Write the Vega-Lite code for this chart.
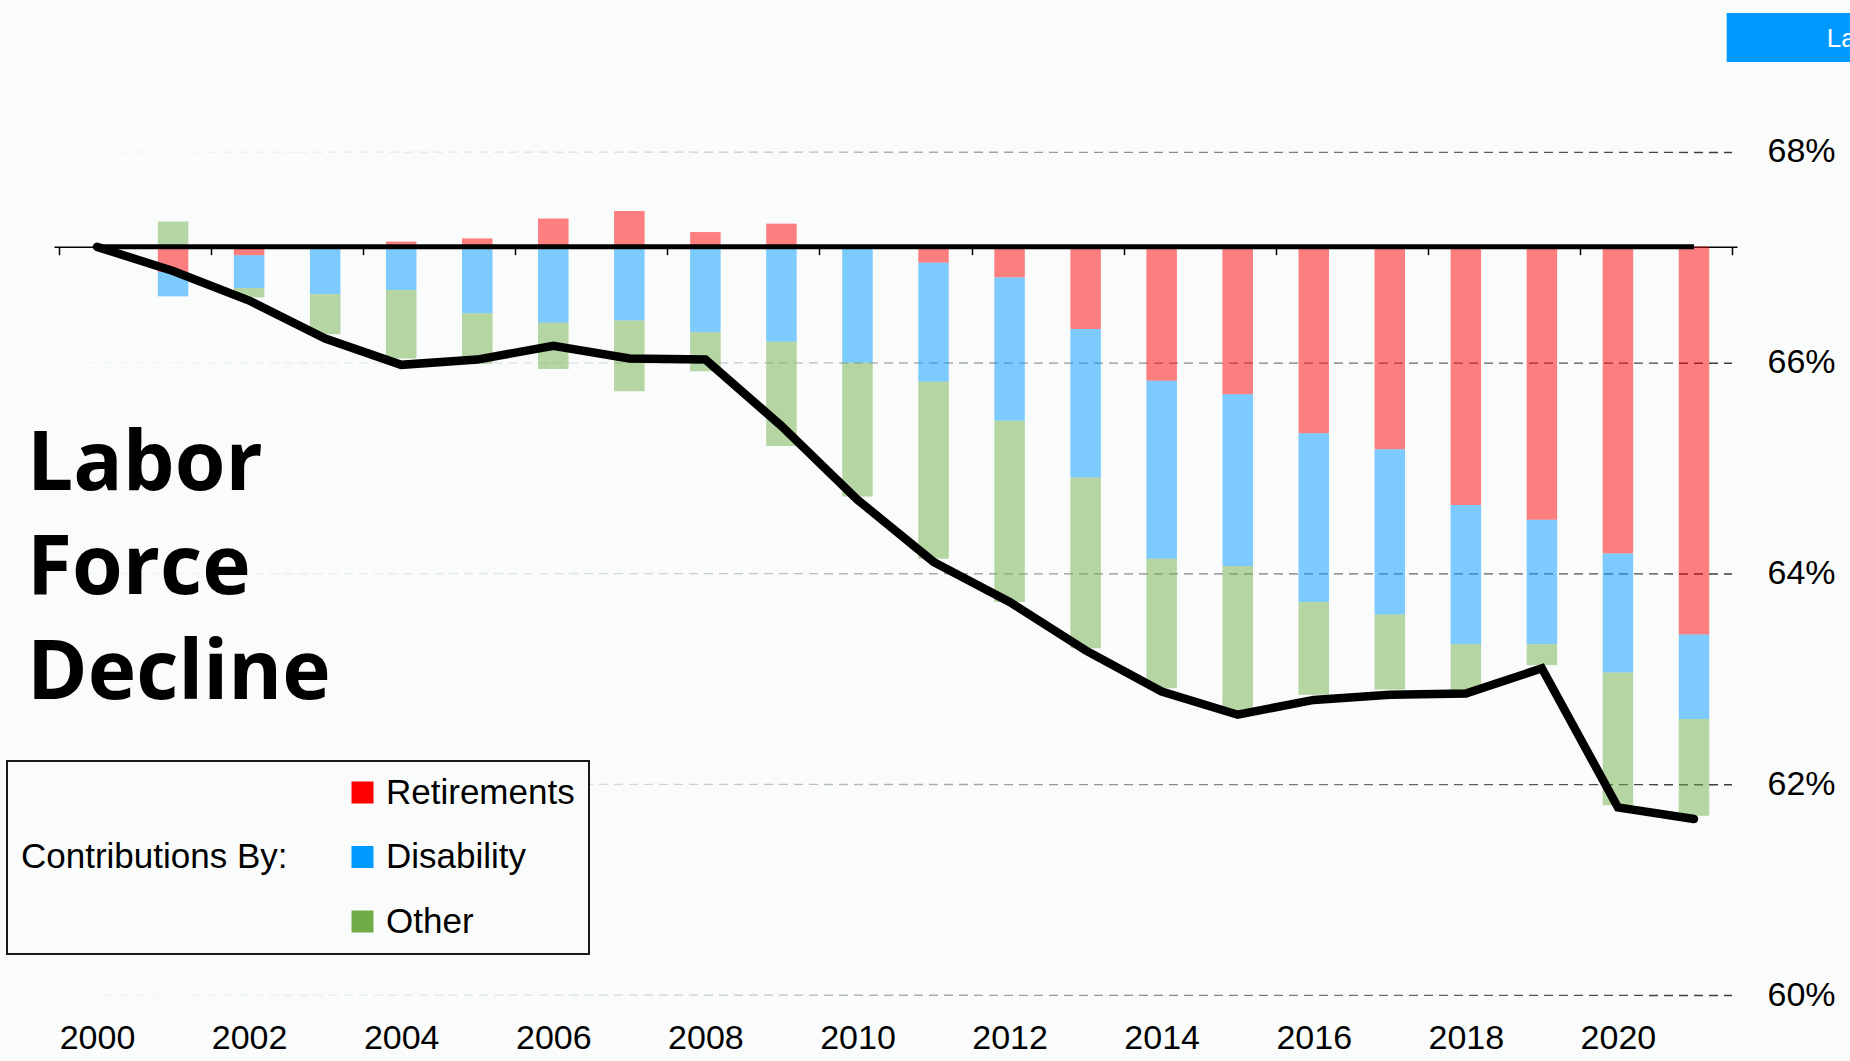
{
  "$schema": "https://vega.github.io/schema/vega-lite/v6.json",
  "width": 1683,
  "height": 980,
  "autosize": "none",
  "padding": {"left": 54, "top": 15, "right": 113, "bottom": 66},
  "background": "#fafcfc",
  "config": {"view": {"stroke": null}},
  "title": {
    "text": ["Labor", "Force", "Decline"],
    "font": "Open Sans",
    "fontSize": 82,
    "fontWeight": "bold",
    "color": "#000000",
    "anchor": "start",
    "frame": "group",
    "orient": "top",
    "baseline": "alphabetic",
    "lineHeight": 104.6,
    "offset": 0,
    "dx": -27,
    "dy": 768
  },
  "datasets": {
    "grid": [{"g": 60}, {"g": 62}, {"g": 64}, {"g": 66}, {"g": 68}],
    "bars": [
      {"year": 2001, "cat": "Retirements", "from": 67.10, "to": 66.86},
      {"year": 2001, "cat": "Disability", "from": 66.86, "to": 66.63},
      {"year": 2001, "cat": "Other", "from": 67.10, "to": 67.34},
      {"year": 2002, "cat": "Retirements", "from": 67.10, "to": 67.02},
      {"year": 2002, "cat": "Disability", "from": 67.02, "to": 66.71},
      {"year": 2002, "cat": "Other", "from": 66.71, "to": 66.62},
      {"year": 2003, "cat": "Disability", "from": 67.10, "to": 66.65},
      {"year": 2003, "cat": "Other", "from": 66.65, "to": 66.27},
      {"year": 2004, "cat": "Retirements", "from": 67.10, "to": 67.15},
      {"year": 2004, "cat": "Disability", "from": 67.10, "to": 66.69},
      {"year": 2004, "cat": "Other", "from": 66.69, "to": 66.04},
      {"year": 2005, "cat": "Retirements", "from": 67.10, "to": 67.18},
      {"year": 2005, "cat": "Disability", "from": 67.10, "to": 66.47},
      {"year": 2005, "cat": "Other", "from": 66.47, "to": 65.99},
      {"year": 2006, "cat": "Retirements", "from": 67.10, "to": 67.37},
      {"year": 2006, "cat": "Disability", "from": 67.10, "to": 66.38},
      {"year": 2006, "cat": "Other", "from": 66.38, "to": 65.94},
      {"year": 2007, "cat": "Retirements", "from": 67.10, "to": 67.44},
      {"year": 2007, "cat": "Disability", "from": 67.10, "to": 66.40},
      {"year": 2007, "cat": "Other", "from": 66.40, "to": 65.73},
      {"year": 2008, "cat": "Retirements", "from": 67.10, "to": 67.24},
      {"year": 2008, "cat": "Disability", "from": 67.10, "to": 66.29},
      {"year": 2008, "cat": "Other", "from": 66.29, "to": 65.92},
      {"year": 2009, "cat": "Retirements", "from": 67.10, "to": 67.32},
      {"year": 2009, "cat": "Disability", "from": 67.10, "to": 66.20},
      {"year": 2009, "cat": "Other", "from": 66.20, "to": 65.21},
      {"year": 2010, "cat": "Disability", "from": 67.10, "to": 66.00},
      {"year": 2010, "cat": "Other", "from": 66.00, "to": 64.73},
      {"year": 2011, "cat": "Retirements", "from": 67.10, "to": 66.95},
      {"year": 2011, "cat": "Disability", "from": 66.95, "to": 65.82},
      {"year": 2011, "cat": "Other", "from": 65.82, "to": 64.14},
      {"year": 2012, "cat": "Retirements", "from": 67.10, "to": 66.81},
      {"year": 2012, "cat": "Disability", "from": 66.81, "to": 65.45},
      {"year": 2012, "cat": "Other", "from": 65.45, "to": 63.73},
      {"year": 2013, "cat": "Retirements", "from": 67.10, "to": 66.32},
      {"year": 2013, "cat": "Disability", "from": 66.32, "to": 64.91},
      {"year": 2013, "cat": "Other", "from": 64.91, "to": 63.29},
      {"year": 2014, "cat": "Retirements", "from": 67.10, "to": 65.83},
      {"year": 2014, "cat": "Disability", "from": 65.83, "to": 64.14},
      {"year": 2014, "cat": "Other", "from": 64.14, "to": 62.91},
      {"year": 2015, "cat": "Retirements", "from": 67.10, "to": 65.70},
      {"year": 2015, "cat": "Disability", "from": 65.70, "to": 64.07},
      {"year": 2015, "cat": "Other", "from": 64.07, "to": 62.66},
      {"year": 2016, "cat": "Retirements", "from": 67.10, "to": 65.33},
      {"year": 2016, "cat": "Disability", "from": 65.33, "to": 63.73},
      {"year": 2016, "cat": "Other", "from": 63.73, "to": 62.85},
      {"year": 2017, "cat": "Retirements", "from": 67.10, "to": 65.18},
      {"year": 2017, "cat": "Disability", "from": 65.18, "to": 63.61},
      {"year": 2017, "cat": "Other", "from": 63.61, "to": 62.90},
      {"year": 2018, "cat": "Retirements", "from": 67.10, "to": 64.65},
      {"year": 2018, "cat": "Disability", "from": 64.65, "to": 63.33},
      {"year": 2018, "cat": "Other", "from": 63.33, "to": 62.88},
      {"year": 2019, "cat": "Retirements", "from": 67.10, "to": 64.51},
      {"year": 2019, "cat": "Disability", "from": 64.51, "to": 63.33},
      {"year": 2019, "cat": "Other", "from": 63.33, "to": 63.13},
      {"year": 2020, "cat": "Retirements", "from": 67.10, "to": 64.19},
      {"year": 2020, "cat": "Disability", "from": 64.19, "to": 63.06},
      {"year": 2020, "cat": "Other", "from": 63.06, "to": 61.80},
      {"year": 2021, "cat": "Retirements", "from": 67.10, "to": 63.42},
      {"year": 2021, "cat": "Disability", "from": 63.42, "to": 62.62},
      {"year": 2021, "cat": "Other", "from": 62.62, "to": 61.70}
    ],
    "lfpr": [
      {"year": 2000, "rate": 67.10},
      {"year": 2001, "rate": 66.87},
      {"year": 2002, "rate": 66.59},
      {"year": 2003, "rate": 66.23},
      {"year": 2004, "rate": 65.98},
      {"year": 2005, "rate": 66.03},
      {"year": 2006, "rate": 66.16},
      {"year": 2007, "rate": 66.04},
      {"year": 2008, "rate": 66.03},
      {"year": 2009, "rate": 65.40},
      {"year": 2010, "rate": 64.70},
      {"year": 2011, "rate": 64.11},
      {"year": 2012, "rate": 63.73},
      {"year": 2013, "rate": 63.27},
      {"year": 2014, "rate": 62.88},
      {"year": 2015, "rate": 62.66},
      {"year": 2016, "rate": 62.80},
      {"year": 2017, "rate": 62.85},
      {"year": 2018, "rate": 62.86},
      {"year": 2019, "rate": 63.10},
      {"year": 2020, "rate": 61.78},
      {"year": 2021, "rate": 61.67}
    ]
  },
  "resolve": {"axis": {"x": "independent", "y": "independent"}},
  "layer": [
    {
      "data": {"name": "grid"},
      "mark": {
        "type": "rule",
        "strokeDash": [9, 6],
        "strokeWidth": 1.3,
        "y2Offset": 0.5,
        "stroke": {
          "gradient": "linear",
          "stops": [
            {"offset": 0, "color": "#f5f8f9"},
            {"offset": 0.3, "color": "#dce1e4"},
            {"offset": 1, "color": "#3a3a3a"}
          ]
        }
      },
      "encoding": {
        "x": {"datum": 1999.5, "type": "quantitative", "scale": {"domain": [1999.5, 2021.5], "nice": false, "zero": false}, "axis": null},
        "x2": {"datum": 2021.5},
        "y": {
          "field": "g", "type": "quantitative",
          "scale": {"domain": [60, 69.3], "nice": false, "zero": false},
          "axis": {
            "orient": "right", "title": null, "values": [60, 62, 64, 66, 68],
            "labelExpr": "datum.value + '%'", "labelFont": "Liberation Sans", "labelFontSize": 34,
            "labelColor": "#000000", "labelPadding": 30, "labelAlign": "left",
            "ticks": false, "tickSize": 0, "domain": false, "grid": false
          }
        },
        "y2": {"field": "g"}
      }
    },
    {
      "data": {"name": "bars"},
      "mark": {"type": "bar", "width": 30.5, "opacity": 0.5},
      "encoding": {
        "x": {
          "field": "year", "type": "quantitative",
          "axis": {
            "orient": "bottom", "title": null, "values": [2000, 2002, 2004, 2006, 2008, 2010, 2012, 2014, 2016, 2018, 2020],
            "format": "d", "labelFont": "Liberation Sans", "labelFontSize": 34, "labelColor": "#000000",
            "labelPadding": 26, "ticks": false, "tickSize": 0, "domain": false, "grid": false,
            "labelFlush": false, "labelOverlap": false
          }
        },
        "y": {"field": "from", "type": "quantitative", "axis": null},
        "y2": {"field": "to"},
        "color": {
          "field": "cat", "type": "nominal",
          "scale": {"domain": ["Retirements", "Disability", "Other"], "range": ["#ff0000", "#0099ff", "#70ad47"]},
          "legend": {
            "orient": "none", "legendX": -47, "legendY": 746,
            "title": "Contributions By:", "titleOrient": "left", "titleAnchor": "middle", "titleBaseline": "middle",
            "titleFont": "Liberation Sans", "titleFontSize": 35, "titleFontWeight": "normal", "titleColor": "#000000",
            "titlePadding": 57, "titleLimit": 400,
            "labelFont": "Liberation Sans", "labelFontSize": 35, "labelColor": "#000000", "labelOffset": 6,
            "labelLimit": 400,
            "labelExpr": "datum.label + '\u00a0\u00a0'",
            "symbolType": "square", "symbolSize": 484, "symbolOpacity": 1, "symbolStrokeWidth": 0,
            "rowPadding": 28.5, "padding": 14,
            "strokeColor": "#1a1a1a", "fillColor": "#fafcfc", "cornerRadius": 0,
            "encode": {"legend": {"update": {"strokeWidth": {"value": 2}}}}
          }
        }
      }
    },
    {
      "data": {"values": [{}]},
      "mark": {"type": "rule", "color": "#000000", "strokeWidth": 5},
      "encoding": {
        "x": {"datum": 2000, "type": "quantitative", "axis": null},
        "x2": {"datum": 2021},
        "y": {"datum": 67.1, "type": "quantitative", "axis": null}
      }
    },
    {
      "data": {"name": "lfpr"},
      "mark": {"type": "line", "color": "#000000", "strokeWidth": 8.5, "strokeCap": "round", "strokeJoin": "miter"},
      "encoding": {
        "x": {
          "field": "year", "type": "quantitative",
          "axis": {
            "orient": "bottom", "offset": -748.3, "title": null, "labels": false, "grid": false,
            "values": [1999.5, 2001.5, 2003.5, 2005.5, 2007.5, 2009.5, 2011.5, 2013.5, 2015.5, 2017.5, 2019.5, 2021.5],
            "domain": true, "domainColor": "#000000", "domainWidth": 1.5,
            "ticks": true, "tickColor": "#000000", "tickWidth": 1.5, "tickSize": 8
          }
        },
        "y": {"field": "rate", "type": "quantitative", "axis": null}
      }
    },
    {
      "data": {"values": [{}]},
      "mark": {"type": "rect", "color": "#0099ff", "clip": false},
      "encoding": {
        "x": {"datum": 2021.43, "type": "quantitative", "axis": null},
        "x2": {"datum": 2023.3},
        "y": {"datum": 69.32, "type": "quantitative", "axis": null},
        "y2": {"datum": 68.854}
      }
    },
    {
      "data": {"values": [{}]},
      "mark": {"type": "text", "text": "La", "color": "#ffffff", "font": "Liberation Sans", "fontSize": 26, "align": "left", "baseline": "alphabetic"},
      "encoding": {
        "x": {"datum": 2022.745, "type": "quantitative", "axis": null},
        "y": {"datum": 68.999, "type": "quantitative", "axis": null}
      }
    }
  ]
}
